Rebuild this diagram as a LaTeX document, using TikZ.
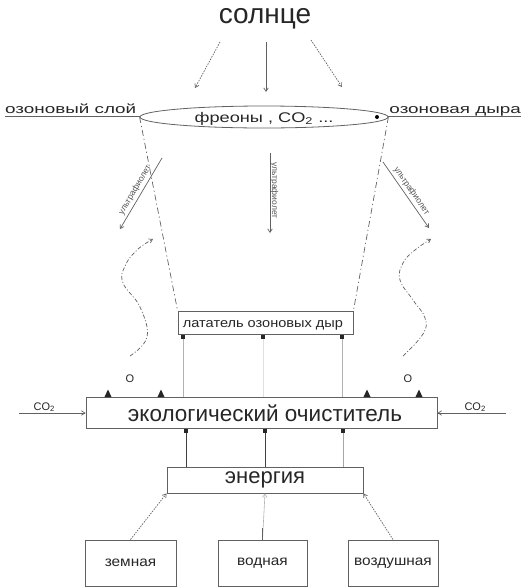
\documentclass[tikz,border=0pt]{standalone}
\usepackage{fontspec}
\setmainfont{Liberation Sans}
\usetikzlibrary{arrows.meta,shapes.geometric,calc}
\definecolor{lc}{gray}{0.38}
\definecolor{tc}{gray}{0.15}
\newcommand{\fs}[1]{\fontsize{#1}{#1}\selectfont}
\newcommand{\wide}[2]{\scalebox{#1}[1]{#2}}
\begin{document}
\begin{tikzpicture}[x=1pt,y=-1pt,
  every node/.style={text=tc, inner sep=0pt},
  box/.style={draw=lc, line width=0.9pt, rectangle},
  ln/.style={draw=lc, line width=0.7pt},
  tip/.style={-{Straight Barb[length=3.5pt,width=4.5pt]}},
  dotl/.style={ln, dash pattern=on 1.5pt off 1.2pt},
  dashdot/.style={ln, dash pattern=on 6pt off 3pt on 1.2pt off 3pt},
  wave/.style={ln, dash pattern=on 4pt off 2pt on 1pt off 2pt},
  sq/.style={fill=black!85, minimum width=4pt, minimum height=4pt},
  uv/.style={font=\fs{8.5}, text=tc!80}
]
\useasboundingbox (0,0) rectangle (524,587);

% sun
\node[font=\fs{28}] (sun) at (265,19) {солнце};
\coordinate (s1a) at (220,42); \coordinate (s1b) at (195,88);
\coordinate (s2a) at (266,42); \coordinate (s2b) at (266,92);
\coordinate (s3a) at (311,40); \coordinate (s3b) at (342,87);
\draw[dotl,tip] (s1a) -- (s1b);
\draw[ln,tip] (s2a) -- (s2b);
\draw[dotl,tip] (s3a) -- (s3b);

% ozone layer ellipse
\node[ellipse, draw=lc, line width=0.8pt, minimum width=248pt, minimum height=22pt] (ell) at (264,117) {};
\node[font=\fs{14}] (fre) at (264,119) {\wide{1.3}{фреоны , CO\textsubscript{2} ...}};
\fill[black] (377,117) circle (2pt);

\node[font=\fs{13}, anchor=base west] (layer) at (5,113) {\wide{1.45}{озоновый слой}};
\draw[ln] (layer.base west) ++(0,3) coordinate (lu1) -- (ell.west |- lu1);
\node[font=\fs{13}, anchor=base east] (hole) at (521,113) {\wide{1.45}{озоновая дыра}};
\draw[ln] (hole.base east) ++(0,3) coordinate (ru1) -- (ell.east |- ru1);

% patch box
\node[box, minimum width=175pt, minimum height=23pt] (patch) at (265.5,322.5) {};
\node[font=\fs{13}] (patcht) at (263,325) {\wide{1.12}{лататель озоновых дыр}};
\draw[dashdot] (ell.west) -- (patch.north west);
\draw[dashdot] (ell.east) -- (patch.north east);

% ultraviolet arrows
\coordinate (u1a) at (162,158); \coordinate (u1b) at (120,229);
\draw[ln,tip] (u1a) -- node[uv, sloped, above=2.5pt] {ультрафиолет} (u1b);
\coordinate (u2a) at (270,153); \coordinate (u2b) at (270,233);
\draw[ln,tip] (u2a) -- node[uv, rotate=-90, anchor=south, yshift=0pt, xshift=-2.5pt] {ультрафиолет} (u2b);
\coordinate (u3a) at (383,162); \coordinate (u3b) at (429,228);
\draw[ln,tip] (u3a) -- node[uv, sloped, above=2.5pt] {ультрафиолет} (u3b);

% wavy curves
\coordinate (w1a) at (130,356); \coordinate (w1b) at (153,239);
\draw[wave,tip] plot[smooth, tension=0.7] coordinates {(w1a) (147,337) (140,307) (123,283) (125,266) (137,250) (w1b)};
\coordinate (w2a) at (403,356); \coordinate (w2b) at (431,239);
\draw[wave,tip] plot[smooth, tension=0.7] coordinates {(w2a) (423,334) (425,318) (413,300) (400,280) (403,263) (415,250) (w2b)};

% eco box
\node[box, minimum width=351pt, minimum height=31pt] (eco) at (261.5,412.5) {};
\node[font=\fs{22.5}] (ecot) at (265,413) {экологический очиститель};

% squares below patch and lines to eco
\node[sq] (p1) at (183,337) {};
\node[sq] (p2) at (263,337) {};
\node[sq] (p3) at (342,337) {};
\draw[draw=black!30, line width=0.6pt] (p1) -- (p1 |- eco.north);
\draw[draw=black!12, line width=0.6pt] (p2) -- (p2 |- eco.north);
\draw[draw=black!30, line width=0.6pt] (p3) -- (p3 |- eco.north);

% triangles on eco top
\foreach \x in {108,161,367,419}{
  \fill[black!85] (\x-3.5,397) -- (\x+3.5,397) -- (\x,389.5) -- cycle;
}
\node[font=\fs{11}] (o1) at (130,379) {O};
\node[font=\fs{11}] (o2) at (408,379) {O};

% CO2 inputs
\coordinate (c1) at (19,413);
\draw[ln,tip] (c1) -- node[font=\fs{11}, above=1pt, pos=0.38] {CO\textsubscript{2}} (eco.west |- c1);
\coordinate (c2) at (506,413);
\draw[ln,tip] (c2) -- node[font=\fs{11}, above=1pt, pos=0.45] {CO\textsubscript{2}} (eco.east |- c2);

% energy
\node[box, minimum width=196pt, minimum height=26pt] (en) at (265,480) {};
\node[font=\fs{22}] (ent) at (265,480) {энергия};
\node[sq] (q1) at (186,431) {};
\node[sq] (q2) at (265,431) {};
\node[sq] (q3) at (343,431) {};
\draw[draw=black!75, line width=0.9pt] (q1) -- (q1 |- en.north);
\draw[draw=black!75, line width=0.9pt] (q2) -- (q2 |- en.north);
\draw[draw=black!35, line width=0.7pt] (q3) -- (q3 |- en.north);

% sources
\node[box, minimum width=91pt, minimum height=46pt] (land) at (130.5,563) {};
\node[font=\fs{14}] at (land) {\wide{1.1}{земная}};
\node[box, minimum width=89pt, minimum height=46pt] (water) at (262.5,563) {};
\node[font=\fs{14}] at (water) {\wide{1.1}{водная}};
\node[box, minimum width=90pt, minimum height=46pt] (air) at (393,563) {};
\node[font=\fs{14}] at (air) {\wide{1.1}{воздушная}};

\draw[dotl,tip] (land.north) -- (en.south west);
\draw[draw=black!30, line width=0.6pt, tip] (water.north) -- (en.south);
\draw[ln] (water.north) -- ++(0,-12);
\draw[dotl,tip] (air.north) -- (en.south east);
\end{tikzpicture}
\end{document}
